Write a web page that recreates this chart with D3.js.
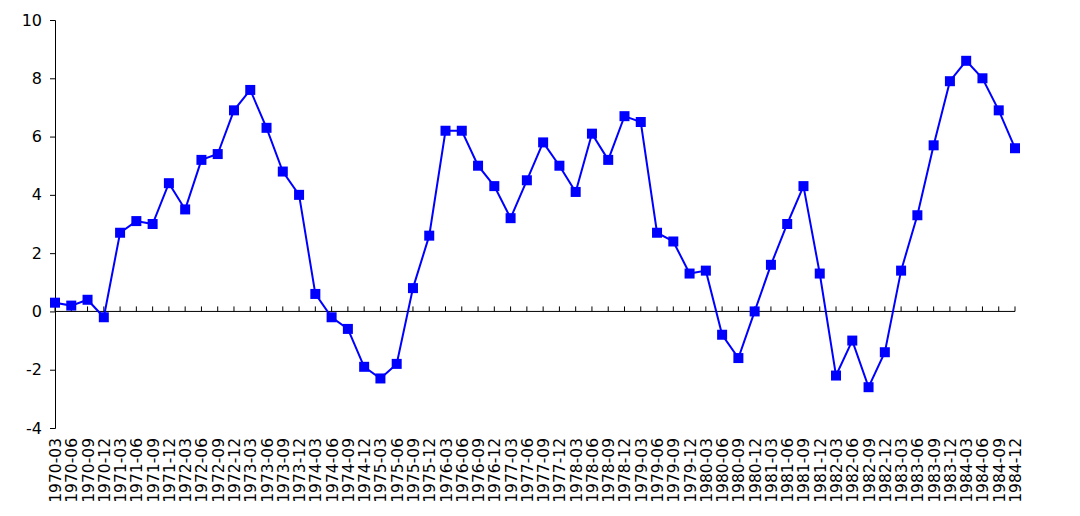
<!DOCTYPE html>
<html><head><meta charset="utf-8">
<script src="https://cdn.jsdelivr.net/npm/d3@7"></script>
<style>body{margin:0;background:#fff}svg{display:block}text{font-family:"DejaVu Sans",Verdana,sans-serif}</style>
</head><body><svg id="chart" width="1080" height="516"></svg>
<script>
const years = d3.range(1970, 1985);
const months = ["03", "06", "09", "12"];
const quarters = years.flatMap(y => months.map(m => `${y}-${m}`));
const values = [0.3,0.2,0.4,-0.2,2.7,3.1,3.0,4.4,3.5,5.2,5.4,6.9,7.6,6.3,4.8,4.0,
  0.6,-0.2,-0.6,-1.9,-2.3,-1.8,0.8,2.6,6.2,6.2,5.0,4.3,3.2,4.5,5.8,5.0,
  4.1,6.1,5.2,6.7,6.5,2.7,2.4,1.3,1.4,-0.8,-1.6,0.0,1.6,3.0,4.3,1.3,
  -2.2,-1.0,-2.6,-1.4,1.4,3.3,5.7,7.9,8.6,8.0,6.9,5.6];
const yTicks = [-4,-2,0,2,4,6,8,10];

const svg = d3.select("#chart");
const step = 960 / 59;
const x = d3.scalePoint().domain(quarters).range([55, 1015]);
const y = d3.scaleLinear().domain([-4, 10]).range([428, 20]);

// y axis
const ya = svg.append("g").attr("transform", "translate(55,0)")
  .call(d3.axisLeft(y).tickValues(yTicks).tickSize(5).tickPadding(8).tickFormat(d => String(d)));
ya.select(".domain").attr("stroke", "#000");
ya.selectAll("text").attr("font-size", 16).attr("fill", "#000");

// zero line with upward category ticks
const za = svg.append("g").attr("transform", `translate(0,${y(0)})`);
za.append("line").attr("x1", 55).attr("x2", 1015).attr("stroke", "#000");
za.selectAll(".tk").data(quarters).enter().append("line")
  .attr("x1", d => x(d)).attr("x2", d => x(d))
  .attr("y1", 0).attr("y2", -5).attr("stroke", "#000");

// category labels
svg.append("g").selectAll("text").data(quarters).enter().append("text")
  .attr("transform", d => `translate(${x(d) + 6},438) rotate(-90)`)
  .attr("text-anchor", "end").attr("font-size", 15.5).text(d => d);

// line + markers
svg.append("path").datum(values)
  .attr("d", d3.line().x((d, i) => x(quarters[i])).y(d => y(d)))
  .attr("fill", "none").attr("stroke", "#0000FF").attr("stroke-width", 2);
svg.append("g").selectAll("rect").data(values).enter().append("rect")
  .attr("x", (d, i) => x(quarters[i]) - 5).attr("y", d => y(d) - 5)
  .attr("width", 10).attr("height", 10).attr("fill", "#0000FF");
</script></body></html>
